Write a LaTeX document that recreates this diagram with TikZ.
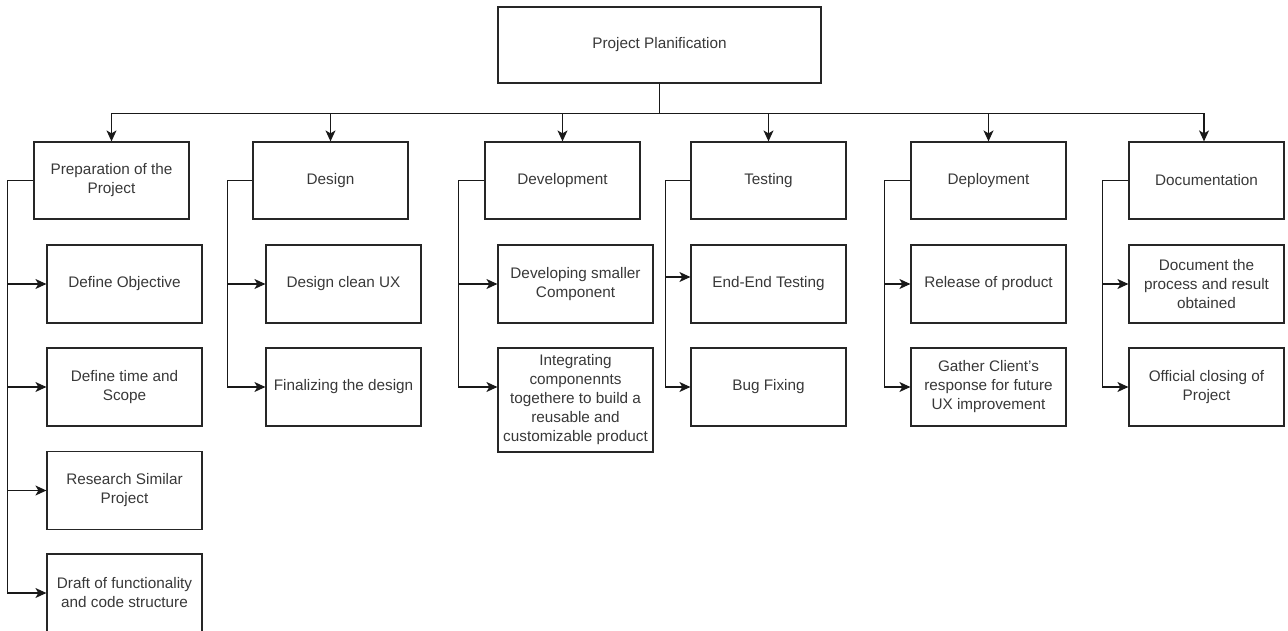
\documentclass[tikz,border=0pt]{standalone}
\usepackage{fontspec}
\setmainfont{Liberation Sans}
\usetikzlibrary{arrows.meta}
\begin{document}
\begin{tikzpicture}[x=1pt,y=-1pt,
  box/.style={draw=black!85, line width=1.2pt, rectangle, minimum width=155pt, minimum height=77pt, inner sep=2pt, align=center, text=black!78, font=\fontsize{15.3}{19}\selectfont},
  tall/.style={box, minimum height=104pt},
  topbox/.style={box, minimum width=323pt, minimum height=76pt},
  link/.style={draw=black!90, line width=1.2pt},
  arr/.style={link, -{Stealth[length=11pt,width=10pt,inset=3pt]}}]
\useasboundingbox (0,0) rectangle (1288,631);
\begin{scope}
\clip (0,0) rectangle (1288,631);
% top
\node[topbox] (top) at (659.5,45) {Project Planification};
% level 1
\node[box] (prep) at (111.5,180.5) {Preparation of the\\Project};
\node[box] (des) at (330.5,180.5) {Design};
\node[box] (dev) at (562.5,180.5) {Development};
\node[box] (tst) at (768.5,180.5) {Testing};
\node[box] (dep) at (988.5,180.5) {Deployment};
\node[box] (doc) at (1206.5,180.5) {Documentation};
% children
\node[box, minimum height=78pt] (p1) at (124.5,284) {Define Objective};
\node[box, minimum height=78pt] (p2) at (124.5,387) {Define time and\\Scope};
\node[box, minimum height=78pt] (p3) at (124.5,490.5) {Research Similar\\Project};
\node[box, minimum height=78pt] (p4) at (124.5,593) {Draft of functionality\\and code structure};
\node[box, minimum height=78pt] (s1) at (343.5,284) {Design clean UX};
\node[box, minimum height=78pt] (s2) at (343.5,387) {Finalizing the design};
\node[box, minimum height=78pt] (v1) at (575.5,284) {Developing smaller\\Component};
\node[tall] (v2) at (575.5,400) {Integrating\\componennts\\togethere to build a\\reusable and\\customizable product};
\node[box, minimum height=78pt] (t1) at (768.5,284) {End-End Testing};
\node[box, minimum height=78pt] (t2) at (768.5,387) {Bug Fixing};
\node[box, minimum height=78pt] (e1) at (988.5,284) {Release of product};
\node[box, minimum height=78pt] (e2) at (988.5,387) {Gather Client's\\response for future\\UX improvement};
\node[box, minimum height=78pt] (c1) at (1206.5,284) {Document the\\process and result\\obtained};
\node[box, minimum height=78pt] (c2) at (1206.5,387) {Official closing of\\Project};
% bus
\foreach \n in {prep,des,dev,tst,dep} 
  \draw[arr] (top.south) -- ++(0,30) -| (\n.north);
\draw[arr] (top.south) -- ++(0,30) -| ([xshift=-2.5pt]doc.north);
% brackets
\foreach \c in {p1,p2,p3,p4} \draw[arr] (prep.west) -- ++(-26,0) |- (\c.west);
\foreach \c in {s1,s2} \draw[arr] (des.west) -- ++(-25,0) |- (\c.west);
\draw[arr] (dev.west) -- ++(-26,0) |- (v1.west);
\draw[arr] (dev.west) -- ++(-26,0) |- ([yshift=13pt]v2.west);
\draw[arr] (tst.west) -- ++(-25,0) |- ([yshift=7pt]t1.west);
\draw[arr] (tst.west) -- ++(-25,0) |- (t2.west);
\foreach \c in {e1,e2} \draw[arr] (dep.west) -- ++(-26,0) |- (\c.west);
\foreach \c in {c1,c2} \draw[arr] (doc.west) -- ++(-26,0) |- (\c.west);
\end{scope}
\end{tikzpicture}
\end{document}
